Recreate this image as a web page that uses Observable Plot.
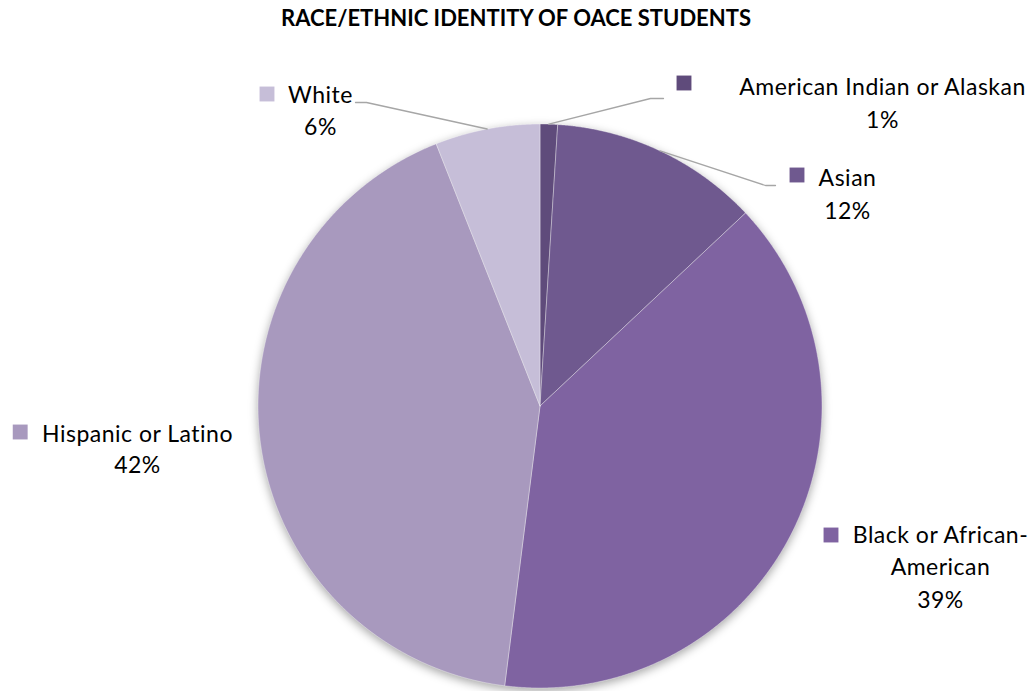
<!DOCTYPE html>
<html>
<head>
<meta charset="utf-8">
<script src="https://cdn.jsdelivr.net/npm/d3@7"></script>
<script src="https://cdn.jsdelivr.net/npm/@observablehq/plot@0.6"></script>
<style>
  html, body { margin: 0; padding: 0; background: #fff; }
  #title { width: 1034px; height: 40px; line-height: 36px; text-align: center; font-family: Lato, sans-serif; font-weight: bold; font-size: 22px; color: #000; padding-right: 2px; box-sizing: border-box; }
  #chart svg text { letter-spacing: 0.5px; }
</style>
</head>
<body>
<div id="title">RACE/ETHNIC IDENTITY OF OACE STUDENTS</div>
<div id="chart"></div>
<script>
// ---- data ----
const categories = ["American Indian or Alaskan", "Asian", "Black or African-American", "Hispanic or Latino", "White"];
const values = [1, 12, 39, 42, 6];
const labelLines = [["American Indian or Alaskan", "1%"], ["Asian", "12%"], ["Black or African-", "American", "39%"], ["Hispanic or Latino", "42%"], ["White", "6%"]];
const colors = ["#5f4b7b", "#6f598f", "#7f63a1", "#a899be", "#c6bed8"];

// ---- layout (page pixel coordinates) ----
const W = 1034, H = 691, TOP = 40;
const cx = 539.5, cy = 405.5, R = 282;
const textCenters = [[882, [87, 120]], [847, [178, 211]], [940, [535, 567, 600]], [137, [434, 465]], [320, [95, 127]]];
const squares = [[683.5, 82.5], [796.5, 174.5], [830.5, 534.5], [19.7, 431.5], [266.5, 93.5]];
const elbows = {0: [[650, 98], [663, 98]], 1: [[765, 185], [775, 185]], 4: [[366, 102], [355, 102]]};

// ---- geometry from data ----
const arcs = d3.pie().sort(null).value(d => d)(values);
const pt = (a, r) => ({x: cx + r * Math.sin(a), y: cy - r * Math.cos(a)});
const slicePts = [];
arcs.forEach((a, i) => {
  const n = Math.max(4, Math.ceil((a.endAngle - a.startAngle) / 0.004));
  slicePts.push({cat: categories[i], ...pt(0, 0)});
  for (let k = 0; k <= n; k++) {
    const ang = a.startAngle + (a.endAngle - a.startAngle) * k / n;
    slicePts.push({cat: categories[i], ...pt(ang, R)});
  }
  slicePts.push({cat: categories[i], ...pt(0, 0)});
});

const leaderPts = [];
Object.entries(elbows).forEach(([i, pts]) => {
  const a = arcs[i];
  const mid = (a.startAngle + a.endAngle) / 2;
  leaderPts.push({id: i, ...pt(mid, R)});
  pts.forEach(p => leaderPts.push({id: i, x: p[0], y: p[1]}));
});

const textRows = [];
labelLines.forEach((lines, i) => {
  lines.forEach((t, j) => textRows.push({text: t, x: textCenters[i][0], y: textCenters[i][1][j]}));
});
const squareRows = categories.map((c, i) => ({cat: c, x: squares[i][0], y: squares[i][1]}));

const chart = Plot.plot({
  width: W,
  height: H - TOP,
  margin: 0,
  x: {domain: [0, W], range: [0, W], axis: null},
  y: {domain: [TOP, H], range: [0, H - TOP], axis: null},
  color: {domain: categories, range: colors},
  style: {fontFamily: "Lato, sans-serif", background: "transparent"},
  marks: [
    Plot.line(slicePts, {x: "x", y: "y", z: "cat", fill: "cat", stroke: "#ffffff", strokeOpacity: 0.45, strokeWidth: 0.8, curve: "linear", className: "slices"}),
    Plot.line(leaderPts, {x: "x", y: "y", z: "id", stroke: "#a6a6a6", strokeWidth: 1.3}),
    Plot.dot(squareRows, {x: "x", y: "y", fill: "cat", symbol: "square", r: 8.4}),
    Plot.text(textRows, {x: "x", y: "y", text: "text", fontSize: 23, fill: "#000", textAnchor: "middle"})
  ]
});
document.getElementById("chart").appendChild(chart);
const sl = chart.querySelector("g.slices");
if (sl) sl.style.filter = "drop-shadow(0px 3px 5px rgba(0,0,0,0.35))";
</script>
</body>
</html>
